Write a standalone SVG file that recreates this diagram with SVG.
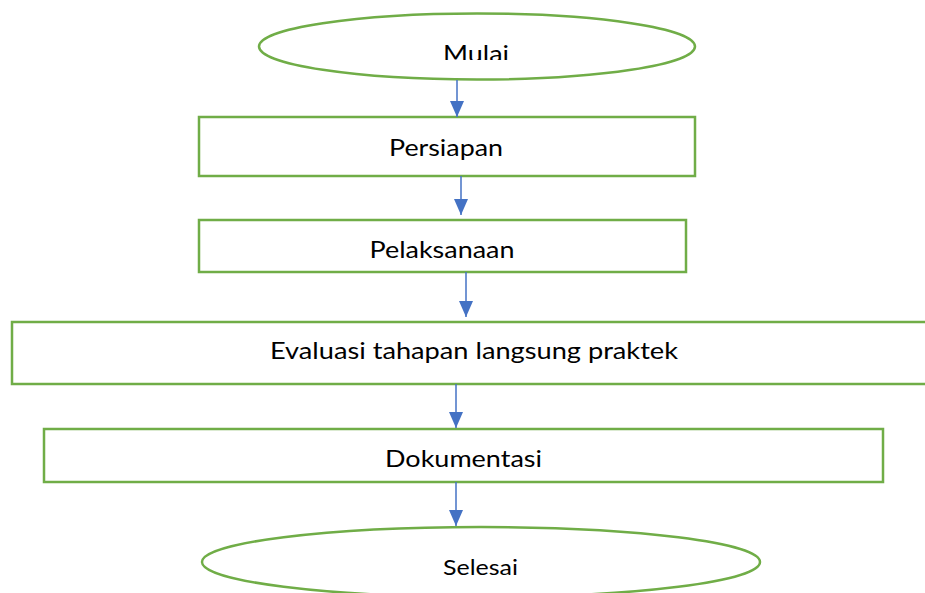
<svg xmlns="http://www.w3.org/2000/svg" width="925" height="593" viewBox="0 0 925 593">
<style>
.shape{fill:#ffffff;stroke:#70AD47;stroke-width:2.5}
.lbl{font-family:Lato,"Liberation Sans",Arial,sans-serif;fill:#000000;text-anchor:middle}
.conn{stroke:#4472C4;stroke-width:1.5;fill:none;marker-end:url(#ah)}
</style>
<defs>
<marker id="ah" viewBox="0 0 16 14" markerWidth="16" markerHeight="14" refX="16" refY="7" orient="auto" markerUnits="userSpaceOnUse">
<path d="M0,0 L16,7 L0,14 z" fill="#4472C4"/>
</marker>
<clipPath id="clipMulai"><rect x="250" y="0" width="460" height="60"/></clipPath>
</defs>
<rect width="925" height="593" fill="#ffffff"/>
<g id="mulai">
<ellipse class="shape" cx="477" cy="46.5" rx="218" ry="33"/>
<text class="lbl" x="476" y="62" font-size="24" textLength="66" lengthAdjust="spacingAndGlyphs" clip-path="url(#clipMulai)">Mulai</text>
</g>
<g id="persiapan">
<rect class="shape" x="199" y="117" width="496" height="59"/>
<text class="lbl" x="446" y="156" font-size="24" textLength="114" lengthAdjust="spacingAndGlyphs">Persiapan</text>
</g>
<g id="pelaksanaan">
<rect class="shape" x="199" y="220" width="487" height="52"/>
<text class="lbl" x="442" y="258" font-size="24" textLength="145" lengthAdjust="spacingAndGlyphs">Pelaksanaan</text>
</g>
<g id="evaluasi">
<rect class="shape" x="12" y="322" width="925" height="62"/>
<text class="lbl" x="474" y="359" font-size="24" textLength="408" lengthAdjust="spacingAndGlyphs">Evaluasi tahapan langsung praktek</text>
</g>
<g id="dokumentasi">
<rect class="shape" x="44" y="429" width="839" height="53"/>
<text class="lbl" x="463.5" y="467" font-size="24" textLength="157" lengthAdjust="spacingAndGlyphs">Dokumentasi</text>
</g>
<g id="selesai">
<ellipse class="shape" cx="481" cy="562" rx="279" ry="35"/>
<text class="lbl" x="480.5" y="575" font-size="21" textLength="75" lengthAdjust="spacingAndGlyphs">Selesai</text>
</g>
<g id="connectors">
<line class="conn" x1="457" y1="80" x2="457" y2="117"/>
<line class="conn" x1="461" y1="176" x2="461" y2="215"/>
<line class="conn" x1="466" y1="272" x2="466" y2="317"/>
<line class="conn" x1="456" y1="384" x2="456" y2="428"/>
<line class="conn" x1="456" y1="482" x2="456" y2="526"/>
</g>
</svg>
